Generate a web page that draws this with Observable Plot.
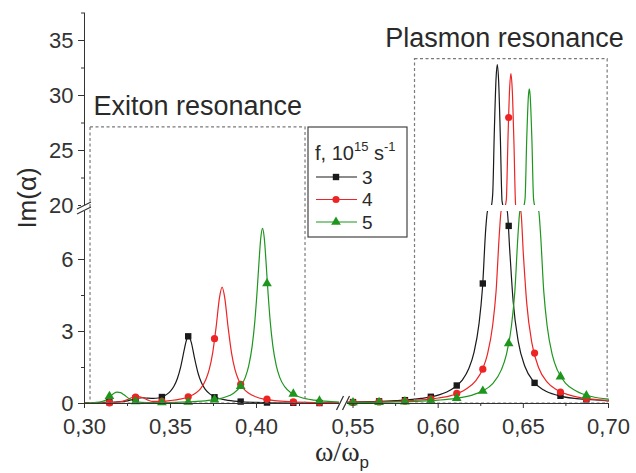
<!DOCTYPE html>
<html><head><meta charset="utf-8">
<script src="https://cdn.jsdelivr.net/npm/d3@7"></script>
<script src="https://cdn.jsdelivr.net/npm/@observablehq/plot@0.6"></script>
<style>body{margin:0;background:#fff} svg{display:block}</style>
</head><body><div id="chart"></div>
<script>
// ---- data ----
const seriesNames = ["3", "4", "5"];
const seriesColors = ["#1a1a1a", "#ee2424", "#1e961e"];
const seriesSymbols = ["square", "circle", "triangle"];

const curve3 = [[0.300,0.03],[0.310,0.04],[0.318,0.06],[0.324,0.10],[0.328,0.17],[0.331,0.22],[0.334,0.24],[0.337,0.22],[0.340,0.21],[0.343,0.23],[0.345,0.27],[0.348,0.39],[0.350,0.52],[0.352,0.72],[0.354,1.04],[0.356,1.55],[0.358,2.24],[0.359,2.57],[0.3605,2.8],[0.362,2.57],[0.364,1.88],[0.366,1.27],[0.368,0.86],[0.370,0.61],[0.373,0.39],[0.377,0.24],[0.382,0.15],[0.390,0.08],[0.400,0.045],[0.410,0.03],[0.430,0.02],[0.450,0.02],
[0.545,0.05],[0.560,0.076],[0.575,0.12],[0.590,0.21],[0.600,0.35],[0.608,0.59],[0.614,0.96],[0.618,1.46],[0.621,2.12],[0.624,3.34],[0.626,4.8],[0.628,7.35],[0.629,9.37],[0.630,12.1],[0.631,15.9],[0.632,21.0],[0.633,26.9],[0.634,31.6],[0.6347,32.8],[0.6355,31.3],[0.6365,26.2],[0.6375,20.4],[0.6385,15.5],[0.6395,11.8],[0.6405,9.1],[0.642,6.4],[0.644,4.27],[0.647,2.59],[0.651,1.53],[0.656,0.91],[0.662,0.56],[0.670,0.34],[0.680,0.21],[0.690,0.16],[0.700,0.11]];

const curve4 = [[0.300,0.02],[0.312,0.03],[0.318,0.05],[0.322,0.09],[0.325,0.16],[0.328,0.26],[0.331,0.29],[0.334,0.24],[0.337,0.14],[0.3395,0.09],[0.3445,0.09],[0.3495,0.12],[0.3555,0.18],[0.3605,0.28],[0.3645,0.43],[0.3675,0.62],[0.3705,0.99],[0.3725,1.41],[0.3745,2.1],[0.3765,3.17],[0.3785,4.42],[0.380,4.85],[0.3815,4.42],[0.3835,3.17],[0.3855,2.1],[0.3875,1.41],[0.3895,0.99],[0.3925,0.62],[0.3955,0.43],[0.3995,0.28],[0.4045,0.18],[0.4105,0.12],[0.4205,0.07],[0.435,0.04],[0.450,0.03],
[0.545,0.043],[0.560,0.06],[0.575,0.09],[0.590,0.15],[0.600,0.23],[0.608,0.34],[0.616,0.58],[0.622,0.94],[0.626,1.42],[0.629,2.07],[0.632,3.26],[0.634,4.68],[0.636,7.17],[0.637,9.14],[0.638,11.8],[0.639,15.5],[0.640,20.5],[0.641,26.2],[0.642,30.8],[0.6427,32.0],[0.6435,30.5],[0.6445,25.6],[0.6455,19.9],[0.6465,15.1],[0.6475,11.5],[0.6485,8.9],[0.650,6.24],[0.652,4.17],[0.655,2.53],[0.659,1.49],[0.664,0.89],[0.670,0.55],[0.680,0.30],[0.690,0.18],[0.700,0.13]];

const curve5 = [[0.300,0.02],[0.306,0.04],[0.310,0.08],[0.313,0.17],[0.315,0.30],[0.317,0.42],[0.319,0.47],[0.321,0.45],[0.323,0.36],[0.326,0.20],[0.329,0.10],[0.333,0.05],[0.340,0.035],[0.3535,0.05],[0.3635,0.08],[0.3735,0.14],[0.3815,0.26],[0.3865,0.42],[0.3905,0.69],[0.3935,1.09],[0.3955,1.58],[0.3975,2.4],[0.399,3.4],[0.4005,4.83],[0.4015,5.95],[0.4025,6.91],[0.4035,7.3],[0.4045,6.91],[0.4055,5.95],[0.4065,4.83],[0.408,3.4],[0.4095,2.4],[0.4115,1.58],[0.4135,1.09],[0.4165,0.69],[0.4205,0.42],[0.4255,0.26],[0.4335,0.14],[0.4435,0.08],[0.450,0.06],
[0.545,0.034],[0.560,0.045],[0.575,0.064],[0.590,0.098],[0.600,0.14],[0.610,0.21],[0.620,0.35],[0.626,0.52],[0.632,0.83],[0.637,1.39],[0.640,2.03],[0.643,3.22],[0.645,4.66],[0.647,7.18],[0.648,9.19],[0.649,11.9],[0.650,15.7],[0.651,20.6],[0.652,26.1],[0.653,30.0],[0.6535,30.6],[0.654,30.0],[0.655,26.1],[0.656,20.6],[0.657,15.7],[0.658,11.9],[0.659,9.19],[0.660,7.18],[0.662,4.66],[0.664,3.22],[0.667,2.03],[0.670,1.39],[0.675,0.83],[0.681,0.52],[0.690,0.29],[0.700,0.18]];

const markerX = [0.3145,0.3297,0.345,0.3603,0.3756,0.3908,0.4061,0.4214,0.4366, 0.550,0.5653,0.5805,0.5957,0.6109,0.6262,0.6414,0.6566,0.6718,0.6870];
const marker3 = [0.05,0.22,0.27,2.8,0.26,0.08,0.04,0.03,0.02, 0.06,0.09,0.14,0.28,0.75,5.0,7.4,0.86,0.32,0.17];
const marker4 = [0.03,0.27,0.09,0.28,2.7,0.80,0.18,0.07,0.04, 0.045,0.065,0.10,0.19,0.42,1.43,28.0,2.1,0.48,0.20];
const marker5 = [0.30,0.09,0.04,0.06,0.16,0.72,5.0,0.40,0.11, 0.04,0.05,0.075,0.115,0.22,0.52,2.5,null,1.12,0.33];

const xTicks = [0.30,0.35,0.40,0.55,0.60,0.65,0.70];
const xMinor = [0.325,0.375,0.425,0.575,0.625,0.675];
const yTicks = [0,3,6,20,25,30,35];
const yMinor = [1.5,4.5,22.5,27.5,32.5,37.5];
const xBreak = [0.45, 0.545];
const yBreak = [8, 20];

const regionNames = ["Exiton resonance", "Plasmon resonance"];
const regionX = [[0.3035, 0.4285], [0.5864, 0.6995]];
const regionY = [[0, 27.1], [0, 33.3]];
const regionLabelXY = [[0.3052, 29.0], [0.5689, 35.2]];

// ---- tables ----
const curves = [curve3, curve4, curve5];
const markers = [marker3, marker4, marker5];
const lineData = curves.flatMap((c, i) => c.map(([x, y]) => ({x, y, s: seriesNames[i]})));
const dotData = markers.flatMap((m, i) => m.map((y, j) => ({x: markerX[j], y, s: seriesNames[i]})).filter(d => d.y != null));
const regions = regionNames.map((n, i) => ({name: n, x1: regionX[i][0], x2: regionX[i][1], y1: regionY[i][0], y2: regionY[i][1], tx: regionLabelXY[i][0], ty: regionLabelXY[i][1]}));

const sans = "'Liberation Sans', Arial, sans-serif";
const axisColor = "#333";
const fmtX = d => d.toFixed(2).replace(".", ",");

const chart = Plot.plot({
  width: 636, height: 473,
  marginLeft: 84, marginRight: 28, marginTop: 12.5, marginBottom: 70,
  style: {fontFamily: sans, background: "white", overflow: "visible"},
  x: {type: "linear", domain: [0.30, xBreak[0], xBreak[1], 0.70], range: [84, 342, 344, 608]},
  y: {type: "linear", domain: [0, yBreak[0], yBreak[1], 37.5], range: [403, 211, 205, 12.5]},
  color: {domain: seriesNames, range: seriesColors},
  symbol: {domain: seriesNames, range: seriesSymbols},
  marks: [
    Plot.line(lineData, {x: "x", y: "y", z: "s", stroke: "s", strokeWidth: 1.2, curve: "monotone-x"}),
    Plot.dot(dotData, {x: "x", y: "y", fill: "s", symbol: "s", r: 3.6, stroke: "none"}),
    Plot.rect([yBreak], {x1: 0.545, x2: 0.70, y1: d => d[0], y2: d => d[1], fill: "white"}),
    Plot.rect(regions, {x1: "x1", x2: "x2", y1: "y1", y2: "y2", fill: "none", stroke: "#7a7a7a", strokeWidth: 1.2, strokeDasharray: "3,2.5"}),
    Plot.text(regions, {x: "tx", y: "ty", text: "name", textAnchor: "start", fontSize: 27, fill: "#2a2a2a"}),
    Plot.ruleY([0], {stroke: axisColor}),
    Plot.ruleX([0.30], {stroke: axisColor}),
    Plot.axisX(xTicks, {anchor: "bottom", tickSize: 5, tickPadding: 10, tickFormat: fmtX, fontSize: 22, fill: axisColor, stroke: axisColor}),
    Plot.axisX(xMinor, {anchor: "bottom", tickSize: 3, tickFormat: () => "", stroke: axisColor}),
    Plot.axisY(yTicks, {anchor: "left", tickSize: 6, tickPadding: 5, fontSize: 22, fill: axisColor, stroke: axisColor}),
    Plot.axisY(yMinor, {anchor: "left", tickSize: 3, tickFormat: () => "", stroke: axisColor})
  ]
});

const svg = d3.select(chart);
const sx = chart.scale("x"), sy = chart.scale("y");
// axis break marks
const bx = (sx.apply(xBreak[0]) + sx.apply(xBreak[1])) / 2, by = sy.apply(0);
svg.append("rect").attr("x", bx - 4).attr("y", by - 3).attr("width", 8).attr("height", 6).attr("fill", "white");
[-3, 3].forEach(o => svg.append("line").attr("x1", bx + o - 3.5).attr("y1", by + 7).attr("x2", bx + o + 3.5).attr("y2", by - 7).attr("stroke", axisColor).attr("stroke-width", 1.2));
const ax = sx.apply(0.30), ay = (sy.apply(yBreak[0]) + sy.apply(yBreak[1])) / 2;
svg.append("rect").attr("x", ax - 3).attr("y", ay - 3).attr("width", 6).attr("height", 6).attr("fill", "white");
[-2.5, 2.5].forEach(o => svg.append("line").attr("x1", ax - 7).attr("y1", ay + o + 3.5).attr("x2", ax + 7).attr("y2", ay + o - 3.5).attr("stroke", axisColor).attr("stroke-width", 1.2));

// axis titles
svg.append("text").attr("transform", "translate(36,198) rotate(-90)").attr("text-anchor", "middle")
  .attr("font-family", sans).attr("font-size", 26).attr("fill", "#2a2a2a").text("Im(α)");
const xl = svg.append("text").attr("x", 342).attr("y", 461).attr("text-anchor", "middle")
  .attr("font-family", "'Liberation Serif', 'Times New Roman', serif").attr("font-size", 28).attr("fill", "#2a2a2a");
xl.append("tspan").text("ω/ω");
xl.append("tspan").attr("font-size", 17).attr("dy", 7).attr("font-family", sans).text("p");

// legend
const lg = svg.append("g").attr("font-family", sans).attr("fill", "#2a2a2a").attr("text-anchor", "start");
lg.append("rect").attr("x", 308).attr("y", 127).attr("width", 99).attr("height", 110).attr("fill", "white").attr("stroke", "#444").attr("stroke-width", 1.2);
const lt = lg.append("text").attr("x", 315).attr("y", 160).attr("font-size", 20).attr("text-anchor", "start");
lt.append("tspan").text("f, 10");
lt.append("tspan").attr("font-size", 13).attr("dy", -9).text("15");
lt.append("tspan").attr("dy", 9).text(" s");
lt.append("tspan").attr("font-size", 13).attr("dy", -9).text("-1");
const symMap = {square: d3.symbolSquare, circle: d3.symbolCircle, triangle: d3.symbolTriangle};
seriesNames.forEach((n, i) => {
  const y = 177 + i * 22.5;
  lg.append("line").attr("x1", 316).attr("x2", 357).attr("y1", y).attr("y2", y).attr("stroke", seriesColors[i]).attr("stroke-width", 1.2);
  lg.append("path").attr("transform", `translate(336,${y})`).attr("d", d3.symbol(symMap[seriesSymbols[i]], Math.PI * 3.6 * 3.6)()).attr("fill", seriesColors[i]);
  lg.append("text").attr("x", 362).attr("y", y).attr("dy", "0.35em").attr("font-size", 19).attr("text-anchor", "start").text(n);
});

document.getElementById("chart").appendChild(chart);
</script>
</body></html>
